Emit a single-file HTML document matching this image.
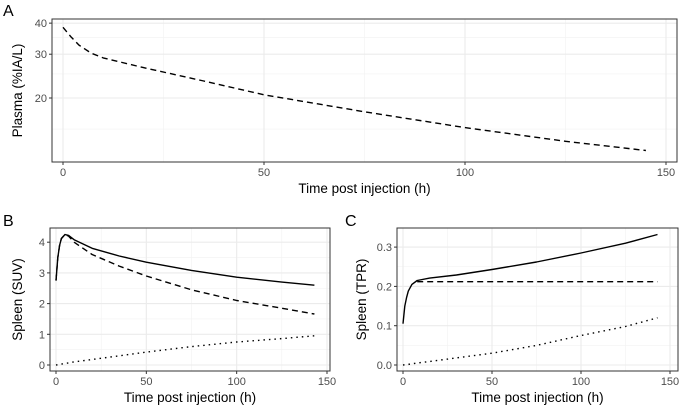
<!DOCTYPE html>
<html><head><meta charset="utf-8"><style>
html,body{margin:0;padding:0;background:#fff}
svg{display:block;font-family:"Liberation Sans",sans-serif}
</style></head><body>
<svg id="c" width="685" height="407" viewBox="0 0 685 407"></svg>
<script>
// Panel A data (plasma, log scale)
const aTime = [0, 2, 4, 7, 10, 20, 35, 50, 75, 100, 125, 145];
const aPlasma = [38.5, 35.2, 32.6, 30.3, 29.0, 26.5, 23.4, 20.6, 17.6, 15.2, 13.4, 12.3];
// Panel B data (SUV)
const bTime = [0, 1, 2, 3, 5, 7, 10, 20, 35, 50, 75, 100, 125, 143];
const bSolid = [2.75, 3.5, 3.9, 4.12, 4.25, 4.22, 4.08, 3.8, 3.55, 3.35, 3.08, 2.86, 2.7, 2.6];
const bDashed = [2.75, 3.5, 3.9, 4.12, 4.25, 4.2, 4.0, 3.6, 3.22, 2.9, 2.45, 2.1, 1.85, 1.66];
const bDotted = [0, 0.01, 0.02, 0.03, 0.05, 0.07, 0.1, 0.18, 0.3, 0.42, 0.6, 0.75, 0.86, 0.95];
// Panel C data (TPR)
const cTime = [0, 1, 2, 3, 5, 8, 15, 30, 50, 75, 100, 125, 143];
const cSolid = [0.105, 0.15, 0.172, 0.188, 0.205, 0.215, 0.221, 0.229, 0.243, 0.262, 0.285, 0.31, 0.332];
const cDashed = [null, null, null, null, null, 0.212, 0.212, 0.212, 0.212, 0.212, 0.212, 0.212, 0.212];
const cDotted = [0, 0.0005, 0.001, 0.0015, 0.003, 0.005, 0.009, 0.018, 0.03, 0.05, 0.075, 0.098, 0.12];
const xTicks = [0, 50, 100, 150];
const aYTicks = [20, 30, 40];
const bYTicks = [0, 1, 2, 3, 4];
const cYTicks = [0.0, 0.1, 0.2, 0.3];
const cYLabels = ["0.0", "0.1", "0.2", "0.3"];

const NS = "http://www.w3.org/2000/svg";
const svg = document.getElementById("c");
function mk(tag, attrs, parent) {
  const e = document.createElementNS(NS, tag);
  for (const k in attrs) e.setAttribute(k, attrs[k]);
  (parent || svg).appendChild(e);
  return e;
}
function txt(s, attrs, name) {
  const t = mk("text", attrs);
  t.textContent = s;
  
  
  return t;
}

function panel(cfg) {
  const {L, R, T, B, x0, x150, yf, name} = cfg;
  const xs = v => x0 + (x150 - x0) * v / 150;
  const g = mk("g", {});
  
  
  [25, 75, 125].forEach(v => mk("line", {x1: xs(v), x2: xs(v), y1: T, y2: B, stroke: "#f2f2f2", "stroke-width": 0.6}, g));
  cfg.minorY.forEach(v => mk("line", {x1: L, x2: R, y1: yf(v), y2: yf(v), stroke: "#f2f2f2", "stroke-width": 0.6}, g));
  xTicks.forEach(v => mk("line", {x1: xs(v), x2: xs(v), y1: T, y2: B, stroke: "#ebebeb", "stroke-width": 1.1}, g));
  cfg.yTicks.forEach(v => mk("line", {x1: L, x2: R, y1: yf(v), y2: yf(v), stroke: "#ebebeb", "stroke-width": 1.1}, g));
  cfg.series.forEach(s => {
    let d = "";
    s.y.forEach((v, i) => { if (v === null) return; d += (d ? "L" : "M") + xs(s.x[i]).toFixed(1) + "," + yf(v).toFixed(1); });
    const p = mk("path", {d, fill: "none", stroke: "#000", "stroke-width": 1.4, "stroke-dasharray": s.dash, "stroke-linejoin": "round"}, g);
    
    
  });
  const border = mk("rect", {x: L, y: T, width: R - L, height: B - T, fill: "none", stroke: "#333", "stroke-width": 1}, g);
  
  
  xTicks.forEach(v => {
    mk("line", {x1: xs(v), x2: xs(v), y1: B, y2: B + 3, stroke: "#333"}, g);
    txt(String(v), {x: xs(v), y: B + 14, "font-size": 11, fill: "#4d4d4d", "text-anchor": "middle"}, "x-tick-label");
  });
  cfg.yTicks.forEach((v, i) => {
    mk("line", {x1: L - 3, x2: L, y1: yf(v), y2: yf(v), stroke: "#333"}, g);
    txt(cfg.yLabels[i], {x: L - 5, y: yf(v) + 4, "font-size": 11, fill: "#4d4d4d", "text-anchor": "end"}, "y-tick-label");
  });
  txt("Time post injection (h)", {x: (L + R) / 2, y: B + 31, "font-size": 13.5, fill: "#000", "text-anchor": "middle"}, "x-axis-title");
  const cy = (T + B) / 2;
  txt(cfg.ytitle, {x: cfg.ytx, y: cy, "font-size": 13.5, fill: "#000", "text-anchor": "middle", transform: `rotate(-90 ${cfg.ytx} ${cy})`}, "y-axis-title");
  txt(cfg.tag, {x: cfg.tagX, y: cfg.tagY, "font-size": 16, fill: "#000"}, "panel-tag");
}

const lnA = v => 98 - (Math.log(v) - Math.log(20)) * 108;
panel({name: "panel-a", L: 52, R: 677, T: 19, B: 162, x0: 63, x150: 666, yf: lnA,
  yTicks: aYTicks, yLabels: aYTicks.map(String), minorY: [15, 25, 35],
  series: [{x: aTime, y: aPlasma, dash: "6 4", name: "plasma-line"}],
  ytitle: "Plasma (%IA/L)", ytx: 22, tag: "A", tagX: 3, tagY: 16});

const byf = v => 365 - v * 30.7;
panel({name: "panel-b", L: 50, R: 330, T: 228, B: 371, x0: 56, x150: 327, yf: byf,
  yTicks: bYTicks, yLabels: bYTicks.map(String), minorY: [0.5, 1.5, 2.5, 3.5],
  series: [{x: bTime, y: bSolid, dash: "", name: "suv-solid-line"},
           {x: bTime, y: bDashed, dash: "6 4", name: "suv-dashed-line"},
           {x: bTime, y: bDotted, dash: "1.5 4", name: "suv-dotted-line"}],
  ytitle: "Spleen (SUV)", ytx: 22, tag: "B", tagX: 3, tagY: 226});

const cyf = v => 365 - v * 393;
panel({name: "panel-c", L: 397, R: 678, T: 228, B: 371, x0: 403, x150: 670, yf: cyf,
  yTicks: cYTicks, yLabels: cYLabels, minorY: [0.05, 0.15, 0.25],
  series: [{x: cTime, y: cSolid, dash: "", name: "tpr-solid-line"},
           {x: cTime, y: cDashed, dash: "6 4", name: "tpr-dashed-line"},
           {x: cTime, y: cDotted, dash: "1.5 4", name: "tpr-dotted-line"}],
  ytitle: "Spleen (TPR)", ytx: 366, tag: "C", tagX: 345, tagY: 226});
</script>
</body></html>
